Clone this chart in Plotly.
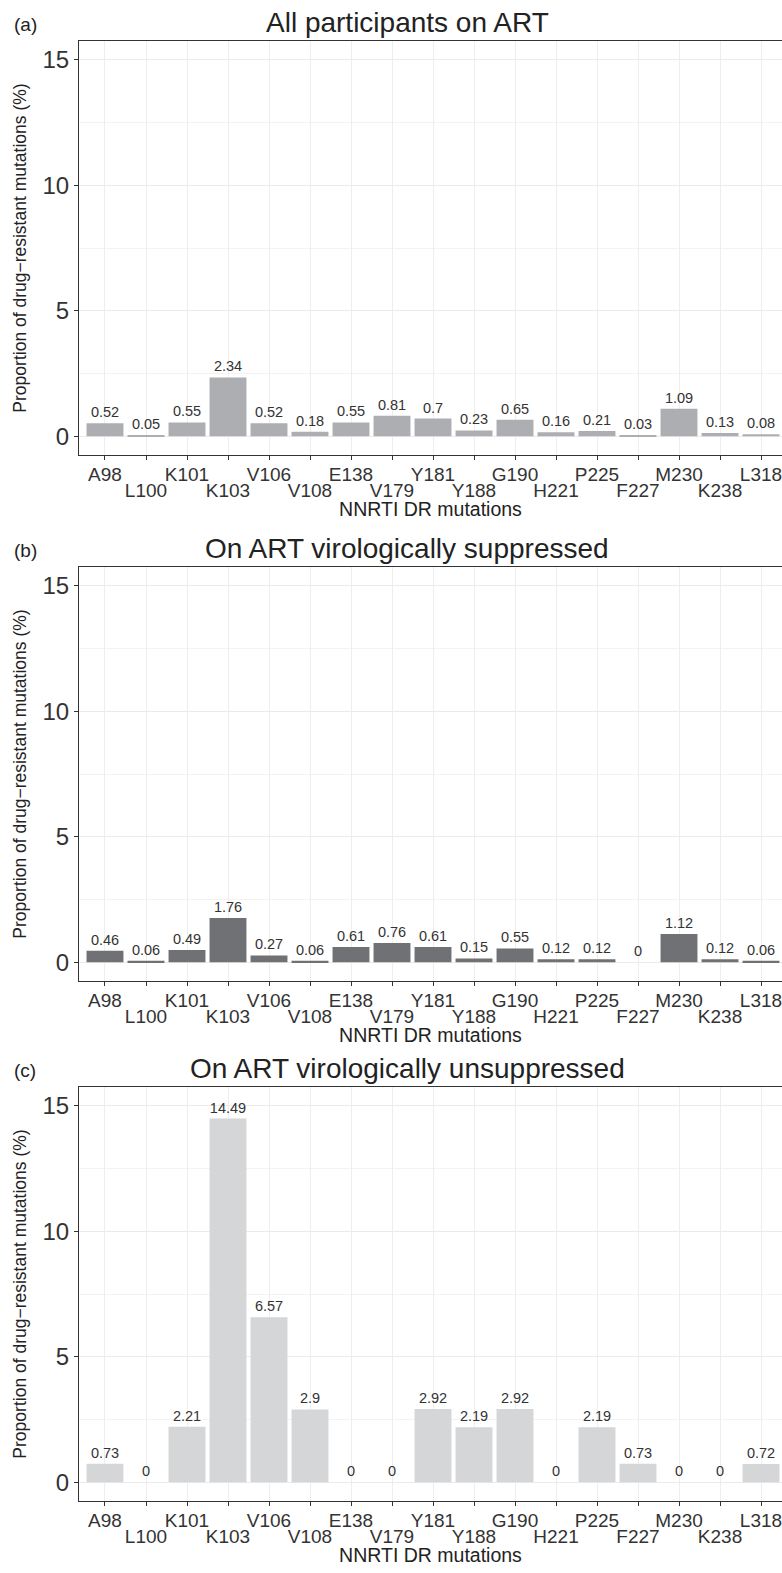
import plotly.graph_objects as go

categories = ["A98", "L100", "K101", "K103", "V106", "V108", "E138", "V179", "Y181",
              "Y188", "G190", "H221", "P225", "F227", "M230", "K238", "L318"]
all_on_art = [0.52, 0.05, 0.55, 2.34, 0.52, 0.18, 0.55, 0.81, 0.7, 0.23, 0.65, 0.16,
              0.21, 0.03, 1.09, 0.13, 0.08]
suppressed = [0.46, 0.06, 0.49, 1.76, 0.27, 0.06, 0.61, 0.76, 0.61, 0.15, 0.55, 0.12,
              0.12, 0, 1.12, 0.12, 0.06]
unsuppressed = [0.73, 0, 2.21, 14.49, 6.57, 2.9, 0, 0, 2.92, 2.19, 2.92, 0, 2.19, 0.73,
                0, 0, 0.72]
panel_titles = ["All participants on ART", "On ART virologically suppressed",
                "On ART virologically unsuppressed"]
panel_tags = ["(a)", "(b)", "(c)"]
bar_colors = ["#ADAEB2", "#707175", "#D5D6D8"]
y_ticks = [0, 5, 10, 15]
x_title = "NNRTI DR mutations"
y_title = "Proportion of drug\u2212resistant mutations (%)"

W, H = 782, 1573
ML, MR, MT, MB = 79, 0, 41, 72
FONT = "Liberation Sans, Arial, Helvetica, sans-serif"

# panel pixel extents (top, bottom)
panels_px = [(41, 455), (567, 981), (1087, 1501)]
plot_h = H - MT - MB
plot_w = W - ML - MR

def ypaper(px):
    return (H - MB - px) / plot_h

xs = list(range(len(categories)))
xrange_ = [-0.634, 16.512]
yrange_ = [-0.75, 15.75]

fig = go.Figure()
series = [all_on_art, suppressed, unsuppressed]
layout_upd = {}
annotations = []
for i, (vals, col) in enumerate(zip(series, bar_colors)):
    n = i + 1
    xa = "x" if n == 1 else f"x{n}"
    ya = "y" if n == 1 else f"y{n}"
    fig.add_trace(go.Bar(
        x=xs, y=vals, width=0.9, marker=dict(color=col, line=dict(width=0)),
        text=[f"{v:g}" for v in vals], textposition="outside",
        textfont=dict(size=14.5, color="#333333", family=FONT),
        constraintext="none", cliponaxis=False,
        xaxis=xa, yaxis=ya, showlegend=False, hoverinfo="skip"))
    top, bot = panels_px[i]
    dom = [ypaper(bot), ypaper(top)]
    xk = "xaxis" if n == 1 else f"xaxis{n}"
    yk = "yaxis" if n == 1 else f"yaxis{n}"
    ovn = n + 3
    layout_upd[xk] = dict(
        domain=[0, 1], anchor=ya, range=xrange_, tickmode="array",
        tickvals=xs, ticktext=[c if j % 2 == 0 else "" for j, c in enumerate(categories)],
        showgrid=True, gridcolor="#EEEEEE", gridwidth=1, zeroline=False,
        showline=True, linecolor="#333333", linewidth=1.2, mirror=True,
        ticks="outside", ticklen=4, tickcolor="#333333", tickwidth=1,
        ticklabelstandoff=-2, ticklabeloverflow="allow",
        tickfont=dict(size=19, color="#333333", family=FONT),
        title=dict(text=x_title, font=dict(size=19.5, color="#222222", family=FONT),
                   standoff=18))
    layout_upd[f"xaxis{ovn}"] = dict(
        overlaying=xa, anchor=ya, side="bottom", range=xrange_, tickmode="array",
        tickvals=[j for j in xs if j % 2 == 1],
        ticktext=[c for j, c in enumerate(categories) if j % 2 == 1],
        showgrid=False, zeroline=False, showline=False,
        ticks="outside", ticklen=4, tickcolor="#333333", tickwidth=1,
        ticklabelstandoff=14, ticklabeloverflow="allow",
        tickfont=dict(size=19, color="#333333", family=FONT))
    layout_upd[yk] = dict(
        domain=dom, anchor=xa, range=yrange_, tickmode="array", tickvals=y_ticks,
        showgrid=True, gridcolor="#EBEBEB", gridwidth=1, zeroline=False,
        minor=dict(tickmode="array", tickvals=[2.5, 7.5, 12.5], showgrid=True,
                   gridcolor="#F3F3F3", gridwidth=1, ticks=""),
        showline=True, linecolor="#333333", linewidth=1.2, mirror=False,
        ticks="outside", ticklen=4, tickcolor="#333333", tickwidth=1,
        tickfont=dict(size=24, color="#333333", family=FONT),
        title=dict(text=y_title, font=dict(size=17.5, color="#222222", family=FONT),
                   standoff=11))
    # empty trace on overlay axis so it renders
    fig.add_trace(go.Bar(x=[], y=[], xaxis=f"x{ovn}", yaxis=ya, showlegend=False))
    annotations.append(dict(
        text=panel_titles[i], xref="paper", yref="paper",
        x=(407 - ML) / plot_w, y=dom[1], xanchor="center", yanchor="bottom",
        yshift=1, showarrow=False, font=dict(size=28, color="#222222", family=FONT)))
    annotations.append(dict(
        text=panel_tags[i], xref="paper", yref="paper",
        x=(12 - ML) / plot_w, y=dom[1], xanchor="left", yanchor="bottom",
        yshift=4, showarrow=False, font=dict(size=19, color="#222222", family=FONT)))

fig.update_layout(
    width=W, height=H, margin=dict(l=ML, r=MR, t=MT, b=MB, autoexpand=False),
    paper_bgcolor="white", plot_bgcolor="white", bargap=0.1,
    font=dict(family=FONT), annotations=annotations, **layout_upd)

fig.write_html("out.html", config={"displayModeBar": False},
               post_script="document.body.style.margin='0px';document.body.style.overflow='hidden';")
